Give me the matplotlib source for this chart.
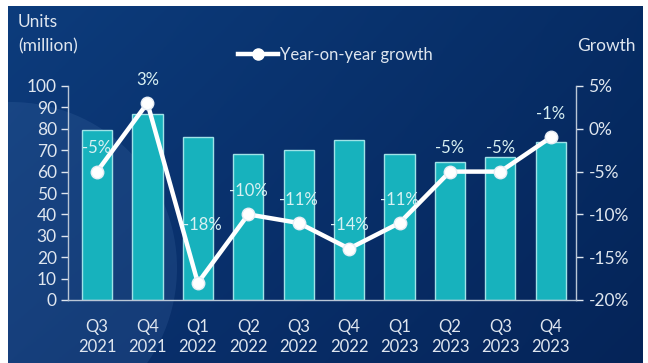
import numpy as np
import matplotlib.pyplot as plt
from matplotlib.lines import Line2D
from matplotlib.patches import Circle

plt.rcParams['font.family'] = ['Lato', 'DejaVu Sans']

# quarterly shipments and year-on-year change
quarters = ['Q3\n2021', 'Q4\n2021', 'Q1\n2022', 'Q2\n2022', 'Q3\n2022',
            'Q4\n2022', 'Q1\n2023', 'Q2\n2023', 'Q3\n2023', 'Q4\n2023']
units = [79.5, 87, 76, 68, 70, 75, 68, 64.5, 67, 74]
growth = [-5, 3, -18, -10, -11, -14, -11, -5, -5, -1]

units_ticks = list(range(0, 101, 10))
growth_ticks = [-20, -15, -10, -5, 0, 5]

text_col = '#dfe6ef'
bar_col = '#17b2bd'
edge_col = '#9fe2e7'

fig = plt.figure(figsize=(6.48, 3.63), dpi=100, facecolor='white')

# dark blue panel behind everything
bg = fig.add_axes([8 / 648, 0, 635 / 648, 357 / 363], zorder=-2)
gx, gy = np.meshgrid(np.linspace(0, 1, 200), np.linspace(0, 1, 120))
top_left = np.array([13, 60, 124]) / 255
top_right = np.array([6, 44, 100]) / 255
bot_left = np.array([10, 50, 112]) / 255
bot_right = np.array([5, 36, 88]) / 255
grad = ((1 - gx)[..., None] * (1 - gy)[..., None] * top_left
        + gx[..., None] * (1 - gy)[..., None] * top_right
        + (1 - gx)[..., None] * gy[..., None] * bot_left
        + gx[..., None] * gy[..., None] * bot_right)
bg.imshow(grad, aspect='auto', extent=(0, 635, 357, 0))
bg.add_patch(Circle((3, 262), 166, color='#5d8cc4', alpha=0.15, lw=0))
bg.set_xlim(0, 635)
bg.set_ylim(357, 0)
bg.axis('off')

ax = fig.add_axes([68 / 648, 1 - 300 / 363, 508 / 648, 214 / 363])
ax.patch.set_visible(False)
x = np.arange(len(quarters))
ax.bar(x, units, width=0.6, color=bar_col, edgecolor=edge_col, linewidth=1.0, zorder=2)
ax.set_xlim(-0.575, 9.5)
ax.set_ylim(0, 100)
ax.set_yticks(units_ticks)
ax.set_xticks(x)
ax.set_xticklabels(quarters, linespacing=1.25)
ax.tick_params(axis='x', length=0, pad=14, labelsize=12, colors=text_col)
ax.tick_params(axis='y', direction='out', length=5, width=1, pad=3, labelsize=12.5,
               colors=text_col)
for s in ['top', 'right']:
    ax.spines[s].set_visible(False)
for s in ['left', 'bottom']:
    ax.spines[s].set_color('#b9c6d6')
    ax.spines[s].set_linewidth(1)

ax2 = ax.twinx()
ax2.set_ylim(-20, 5)
ax2.set_yticks(growth_ticks)
ax2.set_yticklabels([f'{t}%' for t in growth_ticks])
ax2.tick_params(axis='y', direction='out', length=5, width=1, pad=4, labelsize=12.5,
                colors=text_col)
for s in ['top', 'left', 'bottom']:
    ax2.spines[s].set_visible(False)
ax2.spines['right'].set_color('#b9c6d6')
ax2.spines['right'].set_linewidth(1)

ax2.plot(x, growth, color='white', lw=3.2, marker='o', markersize=9,
         markerfacecolor='white', markeredgecolor='#e8eef5', zorder=3)

# value labels above each point, the Q1 2022 one sits higher
label_offsets = {2: (3, 36)}
for i, g in enumerate(growth):
    dx, dy = label_offsets.get(i, (0, 11))
    ax2.annotate(f'{g}%', (x[i], g), xytext=(dx, dy), textcoords='offset points',
                 ha='center', va='bottom', fontsize=12, color='#d9f1f3', zorder=4)

handle = Line2D([], [], color='white', lw=3.2, marker='o', markersize=8,
                markerfacecolor='white')
fig.legend([handle], ['Year-on-year growth'], loc='center', bbox_to_anchor=(0.518, 1 - 55 / 363),
           frameon=False, fontsize=12, labelcolor=text_col, handlelength=2.4,
           handletextpad=0.1)

fig.text(18 / 648, 1 - 22 / 363, 'Units', ha='left', va='center', fontsize=12.5, color=text_col)
fig.text(18 / 648, 1 - 46 / 363, '(million)', ha='left', va='center', fontsize=12.5, color=text_col)
fig.text(636 / 648, 1 - 46 / 363, 'Growth', ha='right', va='center', fontsize=12.5, color=text_col)

fig.savefig('out.png', dpi=100, facecolor=fig.get_facecolor())
